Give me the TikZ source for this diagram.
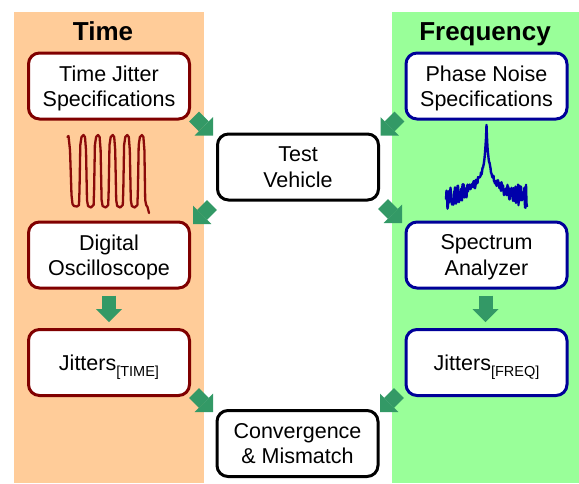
\documentclass[tikz,border=0pt]{standalone}
\usepackage{fontspec}
\setmainfont{Liberation Sans}
\usetikzlibrary{arrows.meta,calc}
\definecolor{orangebg}{HTML}{FFCC99}
\definecolor{greenbg}{HTML}{99FF99}
\definecolor{agreen}{HTML}{339966}
\definecolor{dred}{HTML}{800000}
\definecolor{dblue}{HTML}{000099}
\definecolor{wavered}{HTML}{8B0A0A}
\definecolor{specblue}{HTML}{0000AA}
\tikzset{
  box/.style={draw, line width=3pt, rounded corners=11pt, fill=white,
    minimum width=161pt, minimum height=66pt, inner sep=0pt, outer sep=0pt,
    text depth=0pt, align=center, font=\fontsize{21.5}{25.5}\selectfont},
  tbox/.style={box, draw=dred},
  fbox/.style={box, draw=dblue},
  kbox/.style={box, draw=black},
  head/.style={font=\fontsize{26}{30}\selectfont\bfseries, inner sep=0pt, anchor=base},
  garrow/.style={draw=agreen, line width=14pt, line cap=butt,
    -{Triangle[length=13pt,width=26pt,line width=0pt]}},
  wave/.style={draw=wavered, line width=2.3pt, line join=round, line cap=round},
  spec/.style={draw=specblue, line width=2.4pt, line join=round}
}
\newcommand{\sub}[1]{\raisebox{-6pt}{\fontsize{14.5}{14.5}\selectfont #1}}
\begin{document}
\begin{tikzpicture}[x=1pt,y=-1pt]
\useasboundingbox (0,0) rectangle (579,483);
\fill[orangebg] (14,12) rectangle (204,483);
\fill[greenbg] (392,12) rectangle (579,483);

\node[head] (ht) at (103,40.5) {Time};
\node[head] (hf) at (485,40.5) {Frequency};

\node[tbox] (tjs) at (109,86) {Time Jitter\\Specifications};
\node[fbox] (pns) at (486.5,86) {Phase Noise\\Specifications};
\node[kbox] (tv)  at (298,167) {Test\\Vehicle};
\node[tbox] (dso) at (109,255) {Digital\\Oscilloscope};
\node[fbox] (sa)  at (486.5,255) {Spectrum\\Analyzer};
\node[tbox] (jt)  at (109,362.5) {Jitters\sub{[TIME]}};
\node[fbox] (jf)  at (486.5,362.5) {Jitters\sub{[FREQ]}};
\node[kbox] (cm)  at (297.5,443.5) {Convergence\\\& Mismatch};

% waveform
\draw[wave] (67.5,137) -- (68.5,136) -- (70,150) -- (71.5,195) -- (72.5,204) -- (74,206) -- (77,206.5) -- (79,205)
  \foreach \i in {0,...,3}{
    -- ({79+14.6*\i+0.5},190) -- ({79+14.6*\i+1.3},145) -- ({79+14.6*\i+2.5},137)
    -- ({79+14.6*\i+4.5},135) -- ({79+14.6*\i+6},137) -- ({79+14.6*\i+7},150)
    -- ({79+14.6*\i+8},200) -- ({79+14.6*\i+9},206) -- ({79+14.6*\i+12},207.5) -- ({79+14.6*\i+14.6},205)
  }
  -- (137.9,190) -- (138.7,145) -- (139.9,137) -- (141.9,135) -- (143.4,137) -- (144.4,150)
  -- (145.2,200) -- (146.2,205) -- (147.5,207) -- (149,213);

% spectrum
\pgfmathsetseed{7}
\draw[spec] plot[domain=446:527, samples=163, variable=\x]
  (\x, {212 - 87/sqrt(1+abs(\x-486.5)/1.3) + (0.8+0.3*abs(\x-486.5))*rand});

% arrows
\draw[garrow] ($(tjs.south east)+(4.5,-2.5)$) -- ($(tv.north west)+(-4.5,1.5)$);
\draw[garrow] ($(pns.south west)+(-6.5,-2.5)$) -- ($(tv.north east)+(2,1.5)$);
\draw[garrow] ($(tv.south west)+(-5.5,5)$) -- ($(dso.north east)+(3.5,2)$);
\draw[garrow] ($(tv.south east)+(4.5,4)$) -- ($(sa.north west)+(-4,1)$);
\draw[garrow] ($(dso.south)+(0,7.5)$) -- ($(jt.north)+(0,-7.5)$);
\draw[garrow] ($(sa.south)+(-1,7.5)$) -- ($(jf.north)+(-1,-7.5)$);
\draw[garrow] ($(jt.south east)+(4.5,-2.5)$) -- ($(cm.north west)+(-4,1.5)$);
\draw[garrow] ($(jf.south west)+(-7,-2.5)$) -- ($(cm.north east)+(2,1.5)$);
\end{tikzpicture}
\end{document}
